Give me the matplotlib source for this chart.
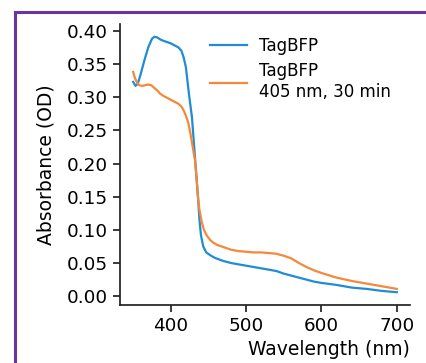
import matplotlib
matplotlib.use("Agg")
import matplotlib.pyplot as plt
from matplotlib.lines import Line2D

wl_blue = [350, 353, 356, 360, 365, 370, 375, 378, 382, 386, 390, 395, 400, 405, 410,
           414, 417, 420, 424, 428, 431, 434, 436, 438, 440, 443, 447, 452, 458,
           465, 470, 480, 490, 500, 510, 520, 530, 540, 550, 560, 570, 580, 590,
           600, 620, 640, 660, 680, 700]
abs_blue = [0.323, 0.317, 0.320, 0.335, 0.356, 0.375, 0.388, 0.391, 0.390, 0.387, 0.385,
            0.383, 0.381, 0.378, 0.375, 0.370, 0.360, 0.345, 0.305, 0.270, 0.225, 0.180,
            0.150, 0.115, 0.092, 0.075, 0.066, 0.062, 0.058, 0.055, 0.053, 0.050, 0.048,
            0.046, 0.044, 0.042, 0.040, 0.038, 0.034, 0.031, 0.028, 0.025, 0.022, 0.020,
            0.017, 0.013, 0.011, 0.008, 0.006]

wl_orange = [350, 352, 355, 358, 362, 366, 370, 374, 378, 382, 386, 390, 395, 400, 405,
             410, 414, 417, 420, 423, 426, 429, 432, 434, 436, 438, 441, 444, 448, 452,
             456, 462, 470, 480, 490, 500, 510, 520, 530, 540, 550, 560, 570, 580, 590,
             600, 620, 640, 660, 680, 700]
abs_orange = [0.338, 0.330, 0.322, 0.318, 0.317, 0.318, 0.319, 0.318, 0.314, 0.310, 0.305,
              0.302, 0.299, 0.296, 0.293, 0.290, 0.286, 0.280, 0.272, 0.262, 0.245, 0.225,
              0.205, 0.180, 0.150, 0.130, 0.112, 0.100, 0.091, 0.085, 0.081, 0.077, 0.074,
              0.070, 0.068, 0.067, 0.066, 0.066, 0.065, 0.064, 0.061, 0.057, 0.050, 0.044,
              0.039, 0.035, 0.028, 0.023, 0.019, 0.015, 0.011]

labels = ["TagBFP", "TagBFP\n405 nm, 30 min"]
yticks = [0.00, 0.05, 0.10, 0.15, 0.20, 0.25, 0.30, 0.35, 0.40]
xticks = [400, 500, 600, 700]

W, H = 426, 363
fig = plt.figure(figsize=(W / 100, H / 100), dpi=100)
ax = fig.add_axes([120 / W, 1 - 305 / H, 290 / W, 281 / H])

ax.plot(wl_blue, abs_blue, color="#1f8cd3", lw=1.6, label=labels[0])
ax.plot(wl_orange, abs_orange, color="#f5883a", lw=1.6, label=labels[1])

ax.set_yticks(yticks)
ax.set_yticklabels([f"{v:.2f}" for v in yticks])
ax.set_xticks(xticks)
for s in ["top", "right"]:
    ax.spines[s].set_visible(False)
for s in ["left", "bottom"]:
    ax.spines[s].set_linewidth(1.25)
    ax.spines[s].set_color("#222222")
ax.tick_params(labelsize=13.2, width=1.25, length=5, color="#222222")
ax.set_ylabel("Absorbance (OD)", fontsize=13.5, labelpad=8)
ax.set_xlabel("Wavelength (nm)", fontsize=13.5, loc="right")

leg = ax.legend(loc="upper left", bbox_to_anchor=(210 / W, 1 - 37 / H),
                bbox_transform=fig.transFigure, frameon=False, fontsize=12,
                borderpad=0, borderaxespad=0, handlelength=2.2, handletextpad=0.75,
                labelspacing=0.45)

purple = "#6a35a0"
x0 = 14.5 / W
y0 = 1 - 11.5 / H
fig.add_artist(Line2D([x0, x0], [-0.1, y0], transform=fig.transFigure, color=purple, lw=2.2))
fig.add_artist(Line2D([x0, 1.1], [y0, y0], transform=fig.transFigure, color=purple, lw=2.2))

fig.savefig("out.png", dpi=100)
